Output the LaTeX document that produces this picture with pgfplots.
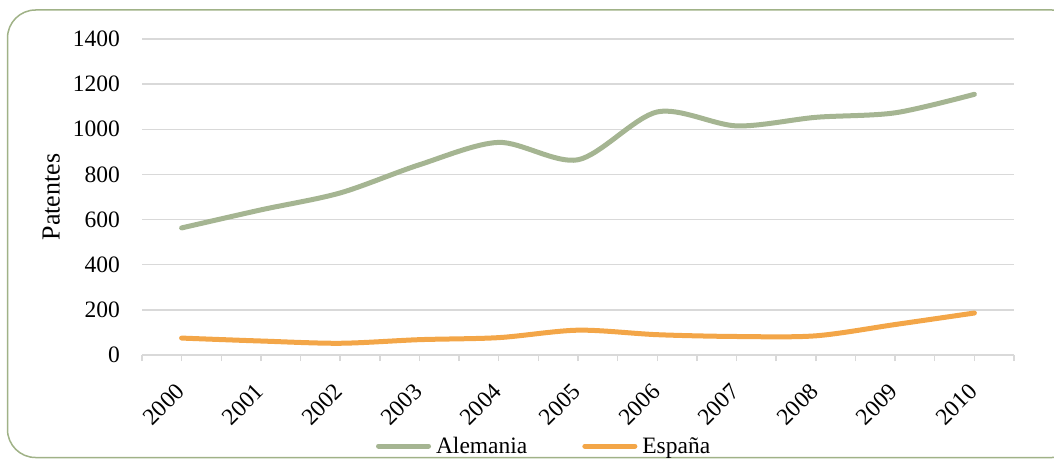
\documentclass[border=0pt]{standalone}
\usepackage{pgfplots}
\pgfplotsset{compat=1.18}
\usepackage{fontspec}
\setmainfont{Liberation Serif}
\definecolor{alem}{RGB}{165,181,146}
\definecolor{esp}{RGB}{243,166,72}
\definecolor{framec}{RGB}{160,178,135}
\definecolor{gridgray}{RGB}{217,217,217}
\begin{document}
\begin{tikzpicture}[x=1pt,y=1pt]
\useasboundingbox (0,0) rectangle (1054,459);
\draw[framec, line width=1.5pt, rounded corners=28pt] (7.5,1.5) rectangle (1080,449);
\begin{axis}[
  at={(142pt,104pt)}, anchor=south west,
  scale only axis, width=872pt, height=316pt,
  xmin=-0.5, xmax=10.5, ymin=0, ymax=1400,
  axis lines*=left,
  x axis line style={draw=gridgray, line width=1.5pt, -},
  y axis line style={draw=none},
  ytick={0,200,...,1400},
  ytick style={draw=none},
  ymajorgrids, grid style={draw=gridgray, line width=1.5pt},
  xtick={0,...,10},
  xticklabels={2000,2001,2002,2003,2004,2005,2006,2007,2008,2009,2010},
  minor xtick={-0.5,0.5,...,10.5},
  xtick align=outside,
  major tick length=6pt, minor tick length=6pt,
  xtick style={draw=gridgray, line width=1.5pt},
  minor tick style={draw=gridgray, line width=1.5pt},
  tick label style={font=\fontsize{23.5}{27}\selectfont},
  xticklabel style={xshift=-7pt, yshift=-21pt, rotate=45, anchor=north east, inner sep=0pt},
  yticklabel style={inner sep=0pt, xshift=-22pt},
  /pgf/number format/assume math mode=true,
  /pgf/number format/set thousands separator={},
  ylabel={Patentes},
  ylabel style={font=\fontsize{26}{30}\selectfont, at={(axis description cs:-0.104,0.5)}, anchor=center, inner sep=0pt},
  legend columns=2,
  legend style={at={(axis description cs:0.46,-0.288)}, anchor=center, draw=none, fill=none,
    font=\fontsize{23.5}{27}\selectfont, inner sep=0pt,
    nodes={inner sep=0pt},
    /tikz/every odd column/.append style={column sep=5pt},
    /tikz/every even column/.append style={column sep=55pt}},
  legend image code/.code={\draw[#1, line cap=round] (2.5pt,0pt) -- (52.5pt,0pt);},
]
\addplot[alem, line width=5pt, smooth, tension=0.5, line cap=round] coordinates {
(0,563) (1,643) (2,718) (3,843) (4,942) (5,865) (6,1077) (7,1015) (8,1053) (9,1073) (10,1155)};
\addlegendentry{Alemania}
\addplot[esp, line width=5pt, smooth, tension=0.5, line cap=round] coordinates {
(0,75) (1,62) (2,52) (3,68) (4,77) (5,110) (6,90) (7,82) (8,85) (9,135) (10,186)};
\addlegendentry{España}
\end{axis}
\end{tikzpicture}
\end{document}
